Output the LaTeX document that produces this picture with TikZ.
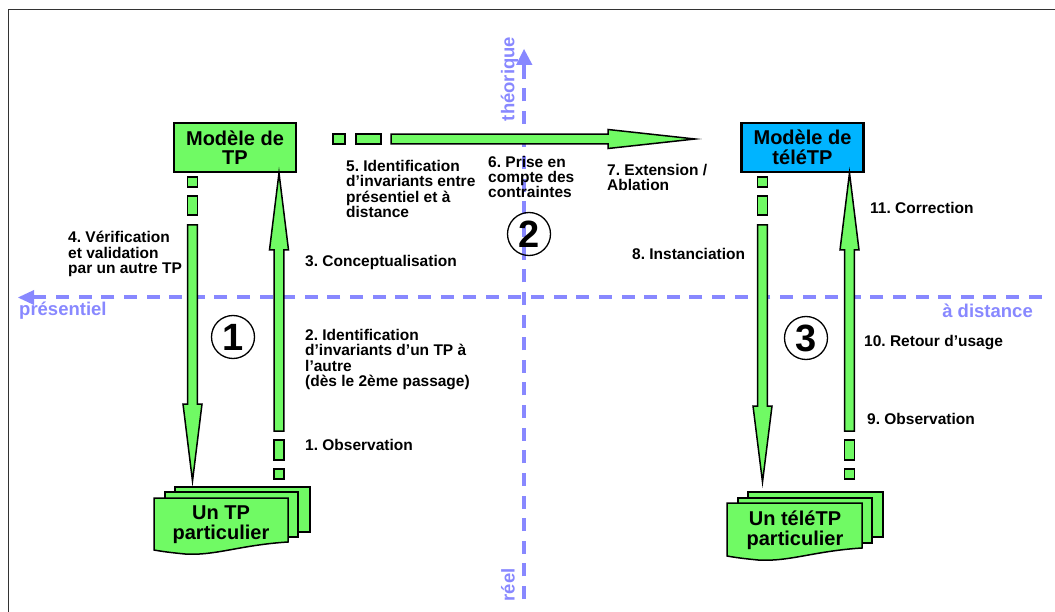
\documentclass[tikz,border=0pt]{standalone}
\usepackage{fontspec}
\setmainfont{Liberation Sans}
\usetikzlibrary{calc}
\definecolor{gfill}{RGB}{112,250,100}
\definecolor{bfill}{RGB}{0,180,255}
\definecolor{axisc}{RGB}{136,136,255}
\tikzset{
  greenshape/.style={draw=black,fill=gfill,line width=1.5pt,line join=miter},
  modelbox/.style={draw=black,line width=1.6pt,minimum width=122pt,minimum height=49pt,inner sep=0pt,align=center,
     font=\fontsize{20}{19.5}\selectfont\bfseries},
  stacktext/.style={inner sep=0pt,align=center,font=\fontsize{20}{20}\selectfont\bfseries},
  steplabel/.style={anchor=west,inner sep=0pt,align=left,font=\fontsize{15.5}{15.3}\selectfont\bfseries\frenchspacing},
  axislabel/.style={inner sep=0pt,text=axisc,font=\fontsize{18.5}{20}\selectfont\bfseries},
  axisline/.style={draw=axisc,line width=4pt,dash pattern=on 13pt off 9.62pt},
  phase/.style={draw=black,line width=1.3pt,circle,minimum size=43pt,inner sep=0pt,font=\fontsize{38}{38}\selectfont\bfseries},
}
\newcommand\gseg[4]{%
  \coordinate (gA) at ($(#1)!#3pt!(#2)$);
  \coordinate (gB) at ($(#1)!#4pt!(#2)$);
  \draw[greenshape] ($(gA)!4.8pt!90:(gB)$) -- ($(gA)!4.8pt!-90:(gB)$) -- ($(gB)!4.8pt!90:(gA)$) -- ($(gB)!4.8pt!-90:(gA)$) -- cycle;
}
\newcommand\garrow[5]{% from, to, small dash end, long dash start, long dash end
  \gseg{#1}{#2}{0}{#3}
  \gseg{#1}{#2}{#4}{#5}
}
\newcommand\gmain[4]{% from, to, shaft start, head length
  \coordinate (gS) at ($(#1)!#3pt!(#2)$);
  \coordinate (gH) at ($(#2)!#4pt!(#1)$);
  \draw[greenshape] ($(gS)!4.8pt!90:(gH)$) -- ($(gH)!4.8pt!-90:(gS)$) -- ($(gH)!9.5pt!-90:(gS)$) -- (#2)
     -- ($(gH)!9.5pt!90:(gS)$) -- ($(gH)!4.8pt!90:(gS)$) -- ($(gS)!4.8pt!-90:(gH)$) -- cycle;
}
\begin{document}
\begin{tikzpicture}[x=1pt,y=-1pt]
\useasboundingbox (0,0) rectangle (1055,612);
% frame
\draw[line width=1pt,draw=black!80] (8.3,612) -- (8.3,10) -- (1055,10);
% axes
\coordinate (axR) at (1041.7,297.5);
\coordinate (axL) at (34,297.5);
\coordinate (axLt) at (18,297.5);
\coordinate (axB) at (524,599);
\coordinate (axT) at (524,65);
\coordinate (axTt) at (524,49);
\draw[axisline] (axR) -- (axL);
\draw[axisline] (axB) -- (axT);
\fill[axisc] (axLt) -- (34,290) -- (34,305) -- cycle;
\fill[axisc] (axTt) -- (516,65) -- (532.5,65) -- cycle;
\draw[axisc,line width=4pt] (axT) -- (524,77);
\draw[axisc,line width=4pt] (axL) -- (46,297.5);
\node[axislabel,anchor=west] (lpres) at (19,310.5) {présentiel};
\node[axislabel,anchor=east] (ldist) at (1033,311) {à distance};
\node[axislabel,rotate=90] (ltheo) at (509.5,79) {théorique};
\node[axislabel,rotate=90] (lreel) at (508,585) {réel};
% model boxes
\node[modelbox,fill=gfill] (m1) at (235,147.5) {Modèle de\\TP};
\node[modelbox,fill=bfill,line width=2.4pt] (m2) at (802.5,147.5) {Modèle de\\téléTP};
% stacks
\draw[greenshape] (175,487) rectangle (310,532);
\draw[greenshape] (165,492) rectangle (298,537);
\draw[greenshape] (154,498) -- (288,498) -- (288,542) .. controls (240,545) and (215,556) .. (185,554) .. controls (175,553) and (165,552) .. (154,550) -- cycle;
\node[stacktext] (s1) at (221,525) {Un TP\\particulier};
\draw[greenshape] (748,492) rectangle (883,537);
\draw[greenshape] (738,498) rectangle (872,543);
\draw[greenshape] (727,503) -- (862,503) -- (862,548) .. controls (814,551) and (789,562) .. (758,560) .. controls (748,559) and (738,558) .. (727,556) -- cycle;
\node[stacktext] (s2) at (795,530.5) {Un téléTP\\particulier};
% arrow end points
\coordinate (a4s) at (192.5,177);  \coordinate (a4e) at (192.5,481);
\coordinate (a3s) at (279,479);    \coordinate (a3e) at (279,173);
\coordinate (a5s) at (333,139);    \coordinate (a5e) at (695,139);
\coordinate (a8s) at (762.5,177);  \coordinate (a8e) at (762.5,482);
\coordinate (a11s) at (849.5,479); \coordinate (a11e) at (849.5,173);
% arrows
\garrow{a4s}{a4e}{10}{19}{38}\gmain{a4s}{a4e}{48}{77}
\garrow{a3s}{a3e}{10}{19}{39}\gmain{a3s}{a3e}{48}{77}
\garrow{a5s}{a5e}{12}{23}{48}\gmain{a5s}{a5e}{58}{87}
\garrow{a8s}{a8e}{10}{19}{38}\gmain{a8s}{a8e}{48}{76}
\garrow{a11s}{a11e}{10}{19}{39}\gmain{a11s}{a11e}{48}{77}
% phase circles
\node[phase] (c1) at (233,337) {1};
\node[phase] (c2) at (529,234) {2};
\node[phase] (c3) at (806,338) {3};
% step labels
\node[steplabel] (t1) at (305,445) {1. Observation};
\node[steplabel] (t2) at (305,359.5) {2. Identification\\d’invariants d’un TP à\\l’autre\\(dès le 2ème passage)};
\node[steplabel] (t3) at (305,262) {3. Conceptualisation};
\node[steplabel] (t4) at (68,254) {4. Vérification\\et validation\\par un autre TP};
\node[steplabel] (t5) at (346,189) {5. Identification\\d’invariants entre\\présentiel et à\\distance};
\node[steplabel] (t6) at (488,177) {6. Prise en\\compte des\\contraintes};
\node[steplabel] (t7) at (607,177.5) {7. Extension /\\Ablation};
\node[steplabel] (t8) at (632,254) {8. Instanciation};
\node[steplabel] (t9) at (867,419) {9. Observation};
\node[steplabel] (t10) at (864,343) {10. Retour d’usage};
\node[steplabel] (t11) at (870,208) {11. Correction};
\end{tikzpicture}
\end{document}
